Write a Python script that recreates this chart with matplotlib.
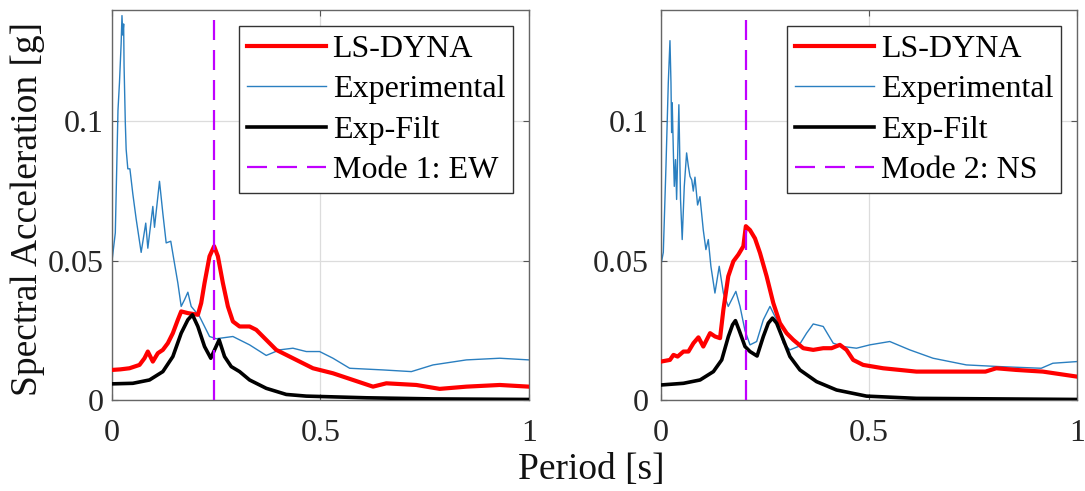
import numpy as np
import matplotlib.pyplot as plt

plt.rcParams['font.family'] = ['Liberation Serif', 'DejaVu Serif']

# Left panel (Mode 1: EW)
ew_exp_t = [0.0, 0.008, 0.0144, 0.018, 0.022, 0.024, 0.026, 0.028, 0.029, 0.032, 0.034, 0.038, 0.043,
            0.05, 0.058, 0.070, 0.081, 0.086, 0.098, 0.102, 0.114, 0.122, 0.130, 0.141, 0.150,
            0.158, 0.166, 0.174, 0.182, 0.190, 0.210, 0.234, 0.250, 0.290, 0.330, 0.370, 0.402,
            0.434, 0.466, 0.498, 0.530, 0.570, 0.650, 0.718, 0.770, 0.850, 0.930, 1.0]
ew_exp_a = [0.0498, 0.060, 0.104, 0.114, 0.128, 0.138, 0.131, 0.135, 0.120, 0.0995, 0.090, 0.083, 0.083,
            0.074, 0.065, 0.053, 0.0635, 0.0545, 0.0695, 0.062, 0.0785, 0.067, 0.0564, 0.057, 0.049,
            0.042, 0.0336, 0.036, 0.0387, 0.0336, 0.030, 0.0228, 0.022, 0.0228, 0.0198, 0.016, 0.018,
            0.0186, 0.0174, 0.0174, 0.015, 0.0114, 0.0108, 0.0102, 0.0126, 0.0144, 0.015, 0.0144]

ew_ls_t = [0.0, 0.02, 0.042, 0.066, 0.078, 0.086, 0.098, 0.110, 0.122, 0.134, 0.146, 0.158, 0.166,
           0.182, 0.206, 0.214, 0.222, 0.234, 0.245, 0.254, 0.266, 0.278, 0.290, 0.306, 0.330,
           0.346, 0.370, 0.394, 0.434, 0.482, 0.530, 0.578, 0.626, 0.658, 0.730, 0.786, 0.850,
           0.930, 1.0]
ew_ls_a = [0.0108, 0.0110, 0.0114, 0.0126, 0.015, 0.0174, 0.0138, 0.0168, 0.018, 0.0204, 0.024, 0.0288, 0.0318,
           0.0312, 0.0306, 0.0348, 0.042, 0.0516, 0.0552, 0.0516, 0.042, 0.0336, 0.0282, 0.0264, 0.0264,
           0.0252, 0.0216, 0.018, 0.015, 0.0114, 0.0096, 0.0072, 0.0048, 0.006, 0.0054, 0.004, 0.0048,
           0.0054, 0.0048]

ew_filt_t = [0.0, 0.05, 0.09, 0.122, 0.146, 0.166, 0.182, 0.193, 0.206, 0.222, 0.237, 0.246, 0.257,
             0.270, 0.286, 0.306, 0.330, 0.370, 0.418, 0.466, 0.61, 0.77, 1.0]
ew_filt_a = [0.0058, 0.006, 0.0072, 0.0102, 0.0156, 0.024, 0.0288, 0.0306, 0.0264, 0.0192, 0.015, 0.018, 0.0216,
             0.0156, 0.012, 0.0102, 0.0072, 0.0042, 0.002, 0.0014, 0.0008, 0.0004, 0.0002]

# Right panel (Mode 2: NS)
ns_exp_t = [0.0, 0.0056, 0.012, 0.0176, 0.0216, 0.024, 0.0256, 0.027, 0.030, 0.032, 0.035, 0.0376,
            0.043, 0.047, 0.051, 0.056, 0.0616, 0.0657, 0.0697, 0.074, 0.0777, 0.0817, 0.088, 0.0937,
            0.1017, 0.108, 0.1137, 0.120, 0.1297, 0.140, 0.150, 0.1617, 0.180, 0.190, 0.2018, 0.214,
            0.230, 0.246, 0.262, 0.278, 0.294, 0.310, 0.330, 0.350, 0.366, 0.390, 0.414, 0.438,
            0.470, 0.502, 0.550, 0.598, 0.654, 0.734, 0.814, 0.914, 0.942, 1.0]
ns_exp_a = [0.0486, 0.053, 0.084, 0.114, 0.129, 0.114, 0.096, 0.1067, 0.0875, 0.0767, 0.0863, 0.072,
            0.106, 0.072, 0.0576, 0.0767, 0.0887, 0.084, 0.0803, 0.079, 0.075, 0.080, 0.070, 0.073,
            0.061, 0.054, 0.0576, 0.048, 0.0384, 0.048, 0.0384, 0.0336, 0.039, 0.0336, 0.025, 0.0198,
            0.021, 0.0288, 0.0336, 0.0288, 0.0204, 0.018, 0.0192, 0.024, 0.0273, 0.0264, 0.0204, 0.0192,
            0.0186, 0.0198, 0.021, 0.018, 0.015, 0.0126, 0.012, 0.0114, 0.0132, 0.0138]

ns_ls_t = [0.0, 0.0216, 0.030, 0.040, 0.054, 0.066, 0.078, 0.090, 0.1017, 0.118, 0.130, 0.142, 0.150,
           0.1617, 0.174, 0.186, 0.198, 0.204, 0.214, 0.226, 0.238, 0.254, 0.270, 0.286, 0.302,
           0.318, 0.342, 0.366, 0.390, 0.410, 0.430, 0.446, 0.462, 0.486, 0.534, 0.614, 0.734,
           0.780, 0.806, 0.854, 0.918, 1.0]
ns_ls_a = [0.0138, 0.0144, 0.0162, 0.0156, 0.0174, 0.0174, 0.0204, 0.0225, 0.0192, 0.024, 0.0228, 0.0222, 0.0324,
           0.0444, 0.0498, 0.0522, 0.0552, 0.0624, 0.061, 0.058, 0.0528, 0.0444, 0.0348, 0.0276, 0.024,
           0.0216, 0.0186, 0.018, 0.0186, 0.0186, 0.0198, 0.018, 0.0144, 0.0126, 0.0114, 0.0102, 0.0102,
           0.0102, 0.0114, 0.0108, 0.0102, 0.0084]

ns_filt_t = [0.0, 0.054, 0.094, 0.126, 0.146, 0.162, 0.172, 0.179, 0.188, 0.202, 0.214, 0.231, 0.246,
             0.258, 0.268, 0.278, 0.294, 0.310, 0.334, 0.374, 0.422, 0.494, 0.614, 1.0]
ns_filt_a = [0.0054, 0.006, 0.0072, 0.0102, 0.0144, 0.0228, 0.027, 0.0285, 0.025, 0.0192, 0.0174, 0.0158, 0.0228,
             0.0276, 0.0294, 0.0276, 0.0216, 0.0156, 0.0108, 0.0066, 0.0036, 0.0014, 0.0006, 0.0002]

mode_periods = [0.245, 0.204]
mode_labels = ['Mode 1: EW', 'Mode 2: NS']

panels = [
    (ew_ls_t, ew_ls_a, ew_exp_t, ew_exp_a, ew_filt_t, ew_filt_a),
    (ns_ls_t, ns_ls_a, ns_exp_t, ns_exp_a, ns_filt_t, ns_filt_a),
]

fig = plt.figure(figsize=(10.85, 4.91), dpi=100)
axes = [fig.add_axes([0.1032, 0.1853, 0.3843, 0.7943]),
        fig.add_axes([0.6092, 0.1853, 0.3834, 0.7943])]
ypads = [6, 9]

for ax, data, mp, ml, yp in zip(axes, panels, mode_periods, mode_labels, ypads):
    ls_t, ls_a, ex_t, ex_a, fl_t, fl_a = data
    ax.plot(ls_t, ls_a, color='#ff0000', lw=3.0, label='LS-DYNA', zorder=3)
    ax.plot(ex_t, ex_a, color='#2a7fc0', lw=1.0, label='Experimental', zorder=2)
    ax.plot(fl_t, fl_a, color='black', lw=2.6, label='Exp-Filt', zorder=4)
    ax.axvline(mp, color='#c000ff', lw=1.6, dashes=(9, 4.5), label=ml, zorder=5)

    ax.set_xlim(0, 1)
    ax.set_ylim(0, 0.14)
    ax.set_xticks([0, 0.5, 1])
    ax.set_xticklabels(['0', '0.5', '1'])
    ax.set_yticks([0, 0.05, 0.1])
    ax.set_yticklabels(['0', '0.05', '0.1'])
    ax.grid(True, color='#dcdcdc', lw=0.9)
    ax.set_axisbelow(True)
    ax.tick_params(direction='in', length=4, width=0.8, top=True, right=True,
                   labelsize=23, colors='#555555', labelcolor='#262626')
    ax.tick_params(axis='x', pad=14)
    ax.tick_params(axis='y', pad=yp)
    for sp in ax.spines.values():
        sp.set_color('#666666')
        sp.set_linewidth(1.0)

    leg = ax.legend(loc='upper right', bbox_to_anchor=(0.962, 0.958), fontsize=23,
                    handlelength=2.47, handletextpad=0.22, labelspacing=0.35,
                    borderpad=0.25, borderaxespad=0.0, fancybox=False, framealpha=1)
    leg.get_frame().set_edgecolor('#333333')
    leg.get_frame().set_linewidth(1.0)

axes[0].set_ylabel('Spectral Acceleration [g]', fontsize=27, color='#111111')
axes[0].yaxis.set_label_coords(-0.16, 0.49)
fig.text(0.545, 0.043, 'Period [s]', fontsize=27, ha='center', va='center', color='#111111')

fig.savefig('out.png', dpi=100)
